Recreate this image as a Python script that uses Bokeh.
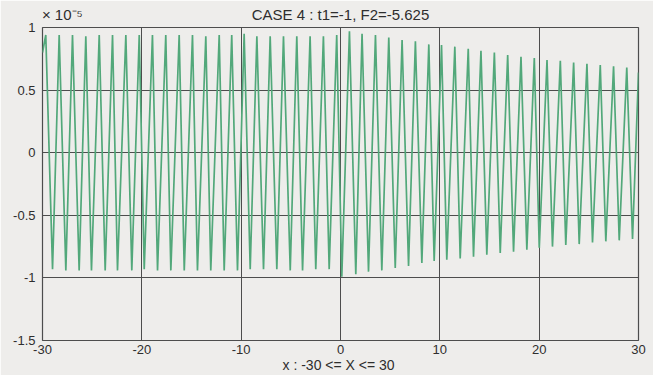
from bokeh.plotting import figure
from bokeh.models import FixedTicker, NumeralTickFormatter, Range1d, LinearAxis
from bokeh.embed import file_html
from bokeh.resources import INLINE

# ---- data (values in units of 1e-5) ----
start_x, start_y = -30.0, 0.80
end_x, end_y = 30.0, 0.64

peak_x = [-29.67, -28.32, -26.98, -25.64, -24.29, -22.95, -21.61, -20.26, -18.93, -17.59,
          -16.24, -14.90, -13.56, -12.21, -10.95, -9.70, -8.42, -7.08, -5.74, -4.40,
          -3.06, -1.72, -0.38, 0.90, 2.17, 3.52, 4.86, 6.20, 7.54, 8.89,
          10.17, 11.51, 12.86, 14.14, 15.49, 16.83, 18.17, 19.51, 20.79, 22.13,
          23.47, 24.81, 26.15, 27.49, 28.82]
peak_y = [0.94, 0.94, 0.94, 0.93, 0.94, 0.94, 0.94, 0.94, 0.94, 0.94,
          0.94, 0.94, 0.93, 0.94, 0.94, 0.95, 0.93, 0.93, 0.93, 0.93,
          0.93, 0.93, 0.94, 0.97, 0.95, 0.94, 0.92, 0.90, 0.89, 0.865,
          0.86, 0.847, 0.83, 0.815, 0.80, 0.78, 0.767, 0.757, 0.74, 0.735,
          0.72, 0.71, 0.70, 0.69, 0.68]
trough_x = [-28.99, -27.65, -26.31, -25.07, -23.69, -22.45, -21.01, -19.76, -18.42, -17.08,
            -15.73, -14.40, -13.06, -11.71, -10.37, -9.09, -7.75, -6.41, -5.06, -3.82,
            -2.49, -1.14, 0.13, 1.54, 2.82, 4.16, 5.51, 6.85, 8.19, 9.43,
            10.70, 12.05, 13.39, 14.73, 16.08, 17.42, 18.76, 20.01, 21.34, 22.68,
            24.03, 25.37, 26.71, 28.06, 29.40]
trough_y = [-0.93, -0.94, -0.94, -0.94, -0.94, -0.94, -0.94, -0.93, -0.94, -0.94,
            -0.94, -0.94, -0.94, -0.94, -0.94, -0.93, -0.93, -0.93, -0.94, -0.94,
            -0.93, -0.93, -0.99, -0.97, -0.95, -0.94, -0.92, -0.905, -0.88, -0.865,
            -0.855, -0.845, -0.83, -0.815, -0.80, -0.79, -0.775, -0.76, -0.75, -0.737,
            -0.73, -0.717, -0.708, -0.70, -0.69]

x_ticks = [-30, -20, -10, 0, 10, 20, 30]
y_ticks = [-1.5, -1.0, -0.5, 0.0, 0.5, 1.0]

title_text = "CASE 4 : t1=-1, F2=-5.625"
multiplier_text = "\u00d7 10\u207b\u2075"
xlabel_text = "x :  -30 <= X <= 30"

# build line: start, alternating peaks and troughs, end
xs = [start_x]
ys = [start_y]
for px, py, tx, ty in zip(peak_x, peak_y, trough_x, trough_y):
    xs += [px, tx]
    ys += [py, ty]
xs.append(end_x)
ys.append(end_y)

FONT = "Liberation Sans"
BG = "#eeedeb"
GRID = "#4d4d4d"
TXT = "#2e2e2e"

p = figure(width=653, height=375, output_backend="svg", toolbar_location=None,
           x_range=Range1d(-30, 30), y_range=Range1d(-1.5, 1.0),
           min_border_left=42, min_border_right=15, min_border_top=27, min_border_bottom=35)
p.background_fill_color = BG
p.border_fill_color = BG
p.outline_line_color = GRID
p.outline_line_width = 1.2

p.line(xs, ys, line_color="#52a87a", line_width=1.7)

for ax in (p.xaxis[0], p.yaxis[0]):
    ax.axis_line_color = None
    ax.major_tick_line_color = None
    ax.minor_tick_line_color = None
    ax.major_tick_out = 0
    ax.major_tick_in = 0
    ax.minor_tick_out = 0
    ax.minor_tick_in = 0
    ax.major_label_text_font = FONT
    ax.major_label_text_font_size = "13px"
    ax.major_label_text_color = TXT

p.xaxis.ticker = FixedTicker(ticks=x_ticks)
p.yaxis.ticker = FixedTicker(ticks=y_ticks)
p.xaxis.formatter = NumeralTickFormatter(format="0")
p.yaxis.formatter = NumeralTickFormatter(format="0.[0]")
p.xaxis.major_label_standoff = 4
p.yaxis.major_label_standoff = 7

p.xaxis.axis_label = xlabel_text
p.xaxis.axis_label_text_font = FONT
p.xaxis.axis_label_text_font_size = "14px"
p.xaxis.axis_label_text_font_style = "normal"
p.xaxis.axis_label_text_color = TXT
p.xaxis.axis_label_standoff = 0

# top axis carrying the multiplier and the title on one row
top = LinearAxis(ticker=FixedTicker(ticks=[-28, 0]),
                 major_label_overrides={-28: multiplier_text, 0: title_text})
top.axis_line_color = None
top.major_tick_line_color = None
top.minor_tick_line_color = None
top.major_tick_out = 0
top.major_tick_in = 0
top.minor_tick_out = 0
top.minor_tick_in = 0
top.major_label_text_font = FONT
top.major_label_text_font_size = "15px"
top.major_label_text_color = TXT
top.major_label_standoff = 5
p.add_layout(top, "above")

p.xgrid.ticker = FixedTicker(ticks=x_ticks)
p.ygrid.ticker = FixedTicker(ticks=y_ticks)
for g in (p.xgrid[0], p.ygrid[0]):
    g.grid_line_color = GRID
    g.grid_line_width = 1
    g.grid_line_alpha = 1.0

open("out.html", "w").write(file_html(p, INLINE))
